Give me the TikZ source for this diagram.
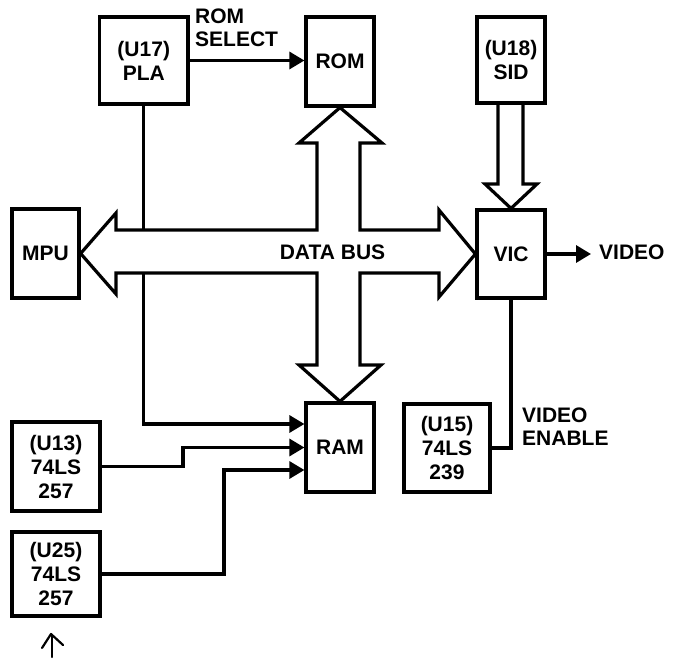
\documentclass[tikz,border=0pt]{standalone}
\usepackage{fontspec}
\setmainfont{Liberation Sans}
\usetikzlibrary{arrows.meta,calc}
\begin{document}
\begin{tikzpicture}[x=1pt,y=-1pt,
  box/.style={draw,line width=3.2pt,inner sep=0pt,align=center,font=\bfseries\fontsize{21}{24}\selectfont},
  wire/.style={line width=3.2pt},
  arr/.style={wire,-{Triangle[length=15pt,width=17pt]}},
  hollow/.style={line width=3.2pt,line join=miter},
  lbl/.style={font=\bfseries\fontsize{21}{23.5}\selectfont,inner sep=0pt,align=left}]
\useasboundingbox (0,0) rectangle (682,660);
% boxes
\node[box,minimum width=88.5pt,minimum height=87pt] (pla) at (143.75,60.5) {(U17)\\PLA};
\node[box,minimum width=68pt,minimum height=89pt] (rom) at (340,61.5) {ROM};
\node[box,minimum width=68pt,minimum height=86pt] (sid) at (511,60) {(U18)\\SID};
\node[box,minimum width=67pt,minimum height=89pt] (mpu) at (45.5,253.5) {MPU};
\node[box,minimum width=68pt,minimum height=88pt] (vic) at (511,254) {VIC};
\node[box,minimum width=68pt,minimum height=89pt] (ram) at (340,447.5) {RAM};
\node[box,minimum width=88pt,minimum height=89pt] (u13) at (56,466.5) {(U13)\\74LS\\257};
\node[box,minimum width=88pt,minimum height=84pt] (u25) at (56,574) {(U25)\\74LS\\257};
\node[box,minimum width=86pt,minimum height=88pt] (u15) at (447,448) {(U15)\\74LS\\239};
% labels
\node[lbl,anchor=west] (romsel) at (195,28) {ROM\\SELECT};
\node[lbl,anchor=west] (video) at (599,252) {VIDEO};
\node[lbl,anchor=west] (vidl) at (522,426.5) {VIDEO\\ENABLE};
\node[lbl] (databus) at (332.5,252) {DATA BUS};
% data bus outline
\coordinate (bt) at (0,230);
\coordinate (bb) at (0,273);
\draw[hollow] (mpu.east) -- (116,213) -- (116,230) -- (317,230) -- (317,143) -- (299,143)
  -- (rom.south) -- (382,143) -- (360,143) -- (360,230) -- (439,230) -- (439,210)
  -- (vic.west) -- (439,297) -- (439,273) -- (360,273) -- (360,365) -- (381,365)
  -- (ram.north) -- (299,365) -- (317,365) -- (317,273) -- (116,273) -- (116,294) -- cycle;
% SID to VIC hollow arrow
\draw[hollow] (498,103) -- (498,184) -- (485,184) -- (vic.north) -- (537,184) -- (523,184) -- (523,103);
% connectors
\draw[arr] (pla.east) -- (pla.east -| rom.west);
\coordinate (vend) at (591,0);
\draw[arr] (vic.east) -- (vic.east -| vend);
\draw[wire] (pla.south) -- (pla.south |- bt);
\coordinate (r1) at ($(ram.west)+(0,-23.5)$);
\coordinate (r3) at ($(ram.west)+(0,22.5)$);
\draw[arr] (pla.south |- bb) |- (r1);
\coordinate (j1) at (183,0);
\coordinate (j2) at (224,0);
\draw[arr] (u13.east) -| (j1 |- ram.west) -- (ram.west);
\draw[arr] (u25.east) -| (j2 |- r3) -- (r3);
\draw[wire] (vic.south) |- (u15.east);
% small hand-drawn mark
\draw[line width=2.2pt,line cap=round,line join=round] (52,657) -- (52,636);
\draw[line width=2.2pt,line cap=round,line join=round] (42,648) -- (51,634) -- (63,645);
\end{tikzpicture}
\end{document}
